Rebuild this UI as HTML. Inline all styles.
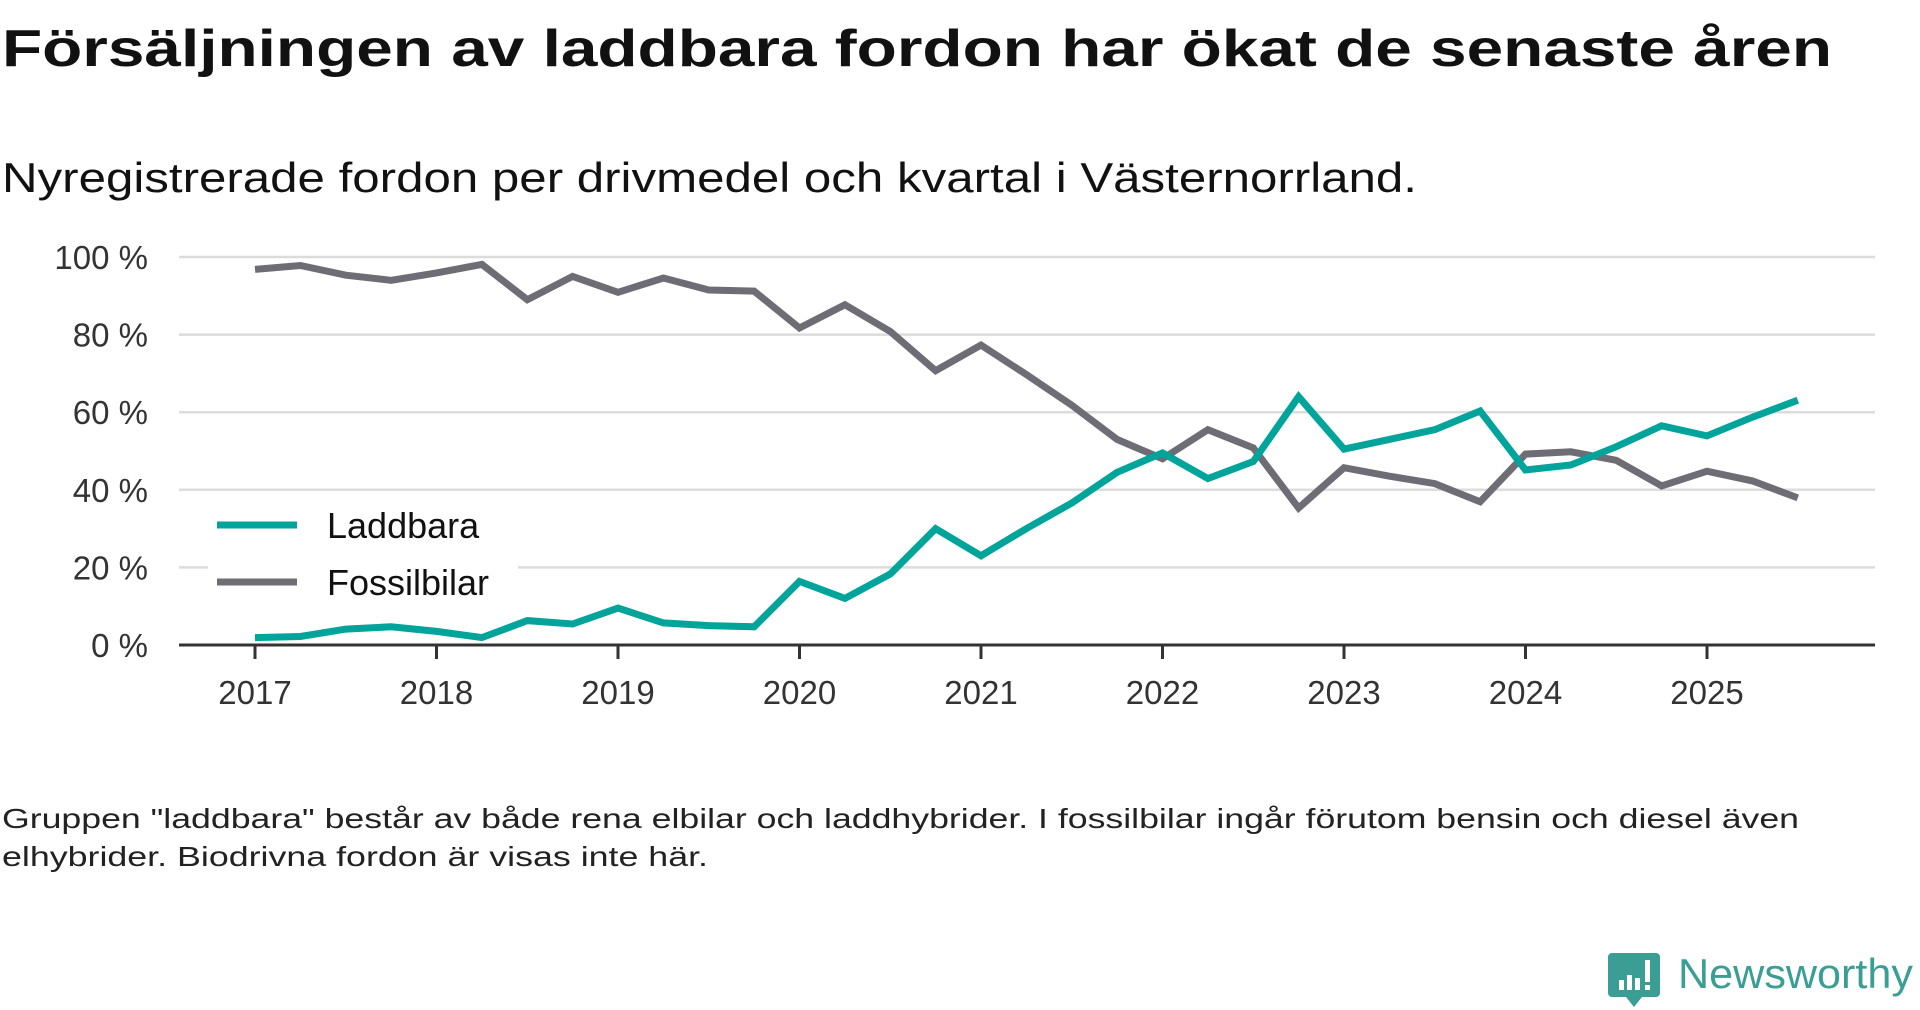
<!DOCTYPE html>
<html><head><meta charset="utf-8"><style>
html,body{margin:0;padding:0;background:#fff;}
svg{display:block;font-family:"Liberation Sans",sans-serif;}
</style></head><body>
<svg id="chart" width="1920" height="1010" viewBox="0 0 1920 1010" xmlns="http://www.w3.org/2000/svg">
<text x="2" y="66" font-size="52" font-weight="bold" fill="#111" textLength="1830" lengthAdjust="spacingAndGlyphs">Försäljningen av laddbara fordon har ökat de senaste åren</text>
<text x="2" y="192" font-size="42" fill="#111" textLength="1415" lengthAdjust="spacingAndGlyphs">Nyregistrerade fordon per drivmedel och kvartal i Västernorrland.</text>
<g id="grid"></g>
<rect x="208" y="560" width="310" height="12" fill="#fff"/>
<g id="yticks"></g>
<g id="xticks"></g>
<g id="series"></g>
<g>
<line x1="217" y1="525" x2="297" y2="525" stroke="#00a49a" stroke-width="7"/>
<text x="327" y="538" font-size="36" fill="#111">Laddbara</text>
<line x1="217" y1="582" x2="297" y2="582" stroke="#6e6d75" stroke-width="7"/>
<text x="327" y="595" font-size="36" fill="#111">Fossilbilar</text>
</g>
<text x="2" y="828" font-size="28" fill="#222" textLength="1797" lengthAdjust="spacingAndGlyphs">Gruppen "laddbara" består av både rena elbilar och laddhybrider. I fossilbilar ingår förutom bensin och diesel även</text>
<text x="2" y="866" font-size="28" fill="#222" textLength="706" lengthAdjust="spacingAndGlyphs">elhybrider. Biodrivna fordon är visas inte här.</text>
<g>
<path d="M1612 953 h44 a4 4 0 0 1 4 4 v36 a4 4 0 0 1 -4 4 h-14 l-8 10 l-8 -10 h-14 a4 4 0 0 1 -4 -4 v-36 a4 4 0 0 1 4 -4z" fill="#3a9e94"/>
<rect x="1619" y="980" width="5" height="10" fill="#fff"/>
<rect x="1627" y="975" width="5" height="15" fill="#fff"/>
<rect x="1635" y="978" width="5" height="12" fill="#fff"/>
<rect x="1645" y="960" width="5" height="22" fill="#fff"/>
<rect x="1645" y="985" width="5" height="5" fill="#fff"/>
<text x="1678" y="988" font-size="42" fill="#3a9e94" textLength="235" lengthAdjust="spacingAndGlyphs">Newsworthy</text>
</g>
</svg>
<script>
const NS="http://www.w3.org/2000/svg";
const years=[2017,2018,2019,2020,2021,2022,2023,2024,2025];
const yTicks=[0,20,40,60,80,100];
const laddbara=[1.9,2.2,4.1,4.7,3.5,1.9,6.3,5.4,9.5,5.7,5.0,4.7,16.4,12.0,18.3,30.0,23.0,30.0,36.6,44.5,49.5,42.9,47.3,64.0,50.5,53.0,55.5,60.3,45.1,46.4,51.1,56.5,53.9,58.7,63.1];
const fossil=[96.8,97.8,95.3,94.0,95.9,98.1,89.0,95.0,90.9,94.6,91.5,91.2,81.7,87.7,80.8,70.7,77.3,69.7,61.8,53.0,48.0,55.5,50.8,35.3,45.7,43.5,41.6,36.9,49.2,49.8,47.6,41.0,44.8,42.3,37.9];

const X0=179,X1=1875,Y0=645,Y100=257;
const xYear=t=>255+(t-2017)*181.5;
const xIdx=i=>xYear(2017+i/4);
const yVal=v=>Y0+(Y100-Y0)*v/100;
function mk(tag,attrs,parent){const e=document.createElementNS(NS,tag);for(const k in attrs)e.setAttribute(k,attrs[k]);parent.appendChild(e);return e;}
const grid=document.getElementById('grid'),yt=document.getElementById('yticks'),xt=document.getElementById('xticks'),ser=document.getElementById('series');
yTicks.forEach(v=>{
  if(v>0){const l=mk('line',{x1:X0,x2:X1,y1:yVal(v),y2:yVal(v),stroke:'#dcdcdc','stroke-width':2.5},grid);
  
  }
  const t=mk('text',{x:148,y:yVal(v)+12,'text-anchor':'end','font-size':33,fill:'#333'},yt);t.textContent=v+' %';
  
  
});
const ax=mk('line',{x1:X0,x2:X1,y1:Y0,y2:Y0,stroke:'#333','stroke-width':3},xt);


years.forEach(yr=>{
  const x=xYear(yr);
  const tk=mk('line',{x1:x,x2:x,y1:Y0,y2:Y0+14,stroke:'#333','stroke-width':3},xt);
  
  
  const t=mk('text',{x:x,y:704,'text-anchor':'middle','font-size':33,fill:'#333'},xt);t.textContent=yr;
  
  
});
function line(vals,color,name){
  const d=vals.map((v,i)=>(i?'L':'M')+xIdx(i).toFixed(1)+' '+yVal(v).toFixed(1)).join(' ');
  const p=mk('path',{d:d,fill:'none',stroke:color,'stroke-width':7,'stroke-linejoin':'miter'},ser);
  
  
}
line(fossil,'#6e6d75','line-fossilbilar');
line(laddbara,'#00a49a','line-laddbara');
</script>
</body></html>
